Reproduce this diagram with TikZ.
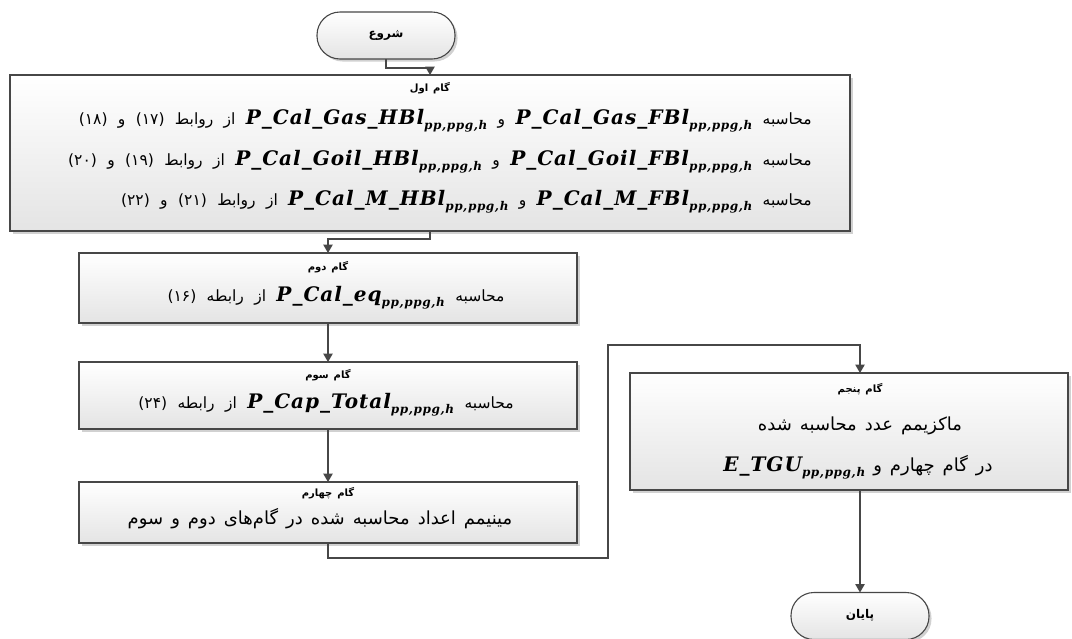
\documentclass[tikz,border=0pt]{standalone}
\usepackage{fontspec}
\usetikzlibrary{arrows.meta,shadows}
\TeXXeTstate=1
\newfontfamily\fa[Script=Arabic,WordSpace=1.4]{DejaVu Sans}
\newfontfamily\fawide[Script=Arabic,WordSpace=2.1,Scale=1.002]{DejaVu Sans}
\newfontfamily\latinvar[LetterSpace=5]{DejaVu Serif}
\definecolor{linec}{HTML}{474747}
\definecolor{boxbot}{HTML}{E4E4E4}
% right-to-left line
\newcommand\rtl[1]{\beginR #1\endR}
% bold italic variable name with its index set, kept left-to-right
\newcommand\vn[1]{\beginL{\latinvar\bfseries\itshape\fontsize{20}{22}\selectfont #1\raisebox{-0.5ex}{\fontsize{12}{13}\selectfont pp,ppg,h}}\endL}
\begin{document}
\begin{tikzpicture}[x=1pt,y=-1pt,
  shape frame/.style={draw=linec,line width=1.1pt,top color=white,bottom color=boxbot,
    drop shadow={shadow xshift=2.5pt,shadow yshift=-2.5pt,fill=black,opacity=.18},
    inner sep=0pt,outer sep=0pt},
  stepbox/.style={shape frame,rectangle},
  termbox/.style={shape frame,rectangle,rounded corners=23pt,minimum width=138pt,minimum height=47pt},
  steptitle/.style={font=\fa\bfseries\fontsize{10}{12}\selectfont,inner sep=0pt},
  body/.style={font=\fawide\fontsize{15.5}{18}\selectfont,inner sep=0pt},
  bigbody/.style={font=\fa\fontsize{18}{20}\selectfont,inner sep=0pt},
  conn/.style={draw=linec,line width=1.1pt,-{Triangle[width=9.5pt,length=8.5pt]}}]
\useasboundingbox (0,0) rectangle (1072,638);

% start and end
\node[termbox] (start) at (386,35.5) {};
\node[steptitle,font=\fa\bfseries\fontsize{12}{14}\selectfont] (starttxt) at (386,35) {\rtl{شروع}};
\node[termbox] (end) at (860,616) {};
\node[steptitle,font=\fa\bfseries\fontsize{12}{14}\selectfont] (endtxt) at (860,615) {\rtl{پایان}};

% step 1
\node[stepbox,minimum width=840pt,minimum height=156pt] (s1) at (430,153) {};
\node[steptitle] (s1t) at (430,88) {\rtl{گام اول}};
\node[body,anchor=base east] (s1a) at (812,124) {\rtl{محاسبه \vn{P\_Cal\_Gas\_FBl} و \vn{P\_Cal\_Gas\_HBl} از روابط \mbox{(۱۷)} و \mbox{(۱۸)}}};
\node[body,anchor=base east] (s1b) at (812,165) {\rtl{محاسبه \vn{P\_Cal\_Goil\_FBl} و \vn{P\_Cal\_Goil\_HBl} از روابط \mbox{(۱۹)} و \mbox{(۲۰)}}};
\node[body,anchor=base east] (s1c) at (812,205) {\rtl{محاسبه \vn{P\_Cal\_M\_FBl} و \vn{P\_Cal\_M\_HBl} از روابط \mbox{(۲۱)} و \mbox{(۲۲)}}};

% step 2
\node[stepbox,minimum width=498pt,minimum height=70pt] (s2) at (328,288) {};
\node[steptitle] (s2t) at (328,267) {\rtl{گام دوم}};
\node[body,anchor=base] (s2a) at (336,301) {\rtl{محاسبه \vn{P\_Cal\_eq} از رابطه \mbox{(۱۶)}}};

% step 3
\node[stepbox,minimum width=498pt,minimum height=67pt] (s3) at (328,395.5) {};
\node[steptitle] (s3t) at (328,375) {\rtl{گام سوم}};
\node[body,anchor=base] (s3a) at (326,408) {\rtl{محاسبه \vn{P\_Cap\_Total} از رابطه \mbox{(۲۴)}}};

% step 4
\node[stepbox,minimum width=498pt,minimum height=61pt] (s4) at (328,512.5) {};
\node[steptitle] (s4t) at (328,493) {\rtl{گام چهارم}};
\node[bigbody,anchor=base] (s4a) at (320,524) {\rtl{مینیمم اعداد محاسبه شده در گام‌های دوم و سوم}};

% step 5
\node[stepbox,minimum width=438pt,minimum height=117pt] (s5) at (849,431.5) {};
\node[steptitle] (s5t) at (860,389) {\rtl{گام پنجم}};
\node[bigbody,anchor=base] (s5a) at (860,430) {\rtl{ماکزیمم عدد محاسبه شده}};
\node[bigbody,anchor=base] (s5b) at (858,471) {\rtl{در گام چهارم و \vn{E\_TGU}}};

% connectors
\draw[conn] (start.south) -- ++(0,9) -| (s1.north);
\draw[conn] (s1.south) -- ++(0,8) -| (s2.north);
\draw[conn] (s2.south) -- (s3.north);
\draw[conn] (s3.south) -- (s4.north);
\draw[conn] (s4.south) -- ++(0,15) -| (608,345) -| (end.north |- s5.north);
\draw[conn] (end.north |- s5.south) -- (end.north);
\end{tikzpicture}
\end{document}
